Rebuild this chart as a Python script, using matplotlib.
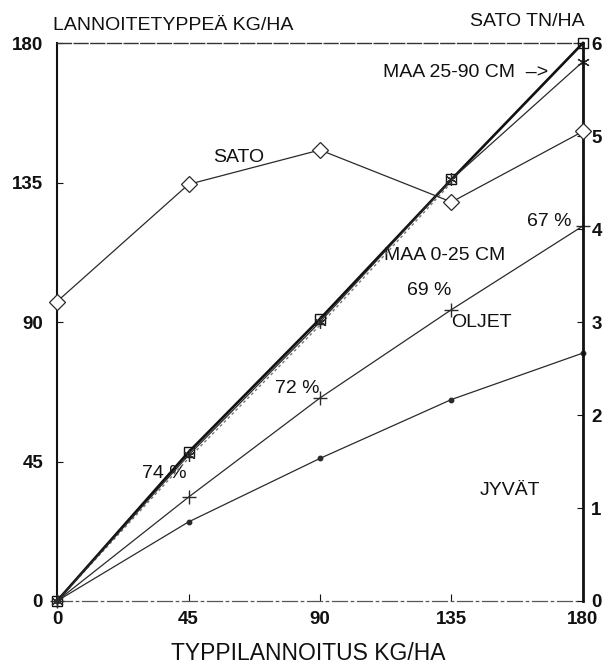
import numpy as np
import matplotlib
matplotlib.use("Agg")
import matplotlib.pyplot as plt

# ---- data ----
n_rate = [0, 45, 90, 135, 180]                 # TYPPILANNOITUS KG/HA
maa_total = [0, 48, 91, 136, 180]              # squares, thick line
maa_0_25 = [0, 47, 90, 136, 174]               # asterisks
maa_dotted_x = [0, 45, 90, 135]
maa_dotted = [0, 46, 89, 135]                  # dotted companion line
oljet = [0, 33.5, 65.5, 94, 121]               # + markers
jyvat = [0, 25.5, 46, 65, 80]                  # small dots
sato = [3.22, 4.48, 4.85, 4.29, 5.05]          # diamonds, right axis (TN/HA)

x_ticks = [0, 45, 90, 135, 180]
left_ticks = [0, 45, 90, 135, 180]
right_ticks = [0, 1, 2, 3, 4, 5, 6]

pct_labels = ["74 %", "72 %", "69 %", "67 %"]

FONT = ["Liberation Sans", "DejaVu Sans"]
plt.rcParams["font.family"] = FONT

fig = plt.figure(figsize=(6.09, 6.68), dpi=100)
ax = fig.add_axes([0.0936, 0.1003, 0.8637, 0.8353])
ax2 = ax.twinx()

ink = "#2a2a2a"

# main lines on left axis
ax.plot(n_rate, maa_total, color="#111111", lw=1.9, marker="s", ms=7,
        mfc="none", mec="#111111", mew=1.0, clip_on=False, zorder=5)
ax.plot(n_rate, maa_0_25, color=ink, lw=0.9, marker=(6, 2, 0), ms=9,
        mec=ink, mew=0.9, clip_on=False, zorder=5)
ax.plot(maa_dotted_x, maa_dotted, color="#777777", lw=1.0, ls=(0, (2, 2)),
        clip_on=False, zorder=4)
ax.plot(n_rate, oljet, color=ink, lw=0.9, marker="+", ms=10, mew=1.0,
        mec=ink, clip_on=False, zorder=5)
ax.plot(n_rate, jyvat, color=ink, lw=0.9, marker="o", ms=3.2,
        mfc=ink, mec=ink, clip_on=False, zorder=5)

# yield on right axis
ax2.plot(n_rate, sato, color=ink, lw=0.9, marker="D", ms=8, mfc="white",
         mec=ink, mew=0.9, clip_on=False, zorder=6)

ax.set_xlim(0, 180)
ax.set_ylim(0, 180)
ax2.set_ylim(0, 6)

ax.set_xticks(x_ticks)
ax.set_xticklabels([str(t) for t in x_ticks])
ax.set_yticks(left_ticks)
ax.set_yticklabels([str(t) for t in left_ticks])
ax2.set_yticks(right_ticks)
ax2.set_yticklabels([str(t) for t in right_ticks])

ax.tick_params(axis="x", direction="in", length=5, width=0.8, pad=7,
               labelsize=13.5, colors="#111111")
ax.tick_params(axis="y", direction="in", length=4, width=0.8, pad=10,
               labelsize=13.5, colors="#111111")
ax2.tick_params(axis="y", direction="in", length=4, width=0.8, pad=6,
                labelsize=13.5, colors="#111111")
for lab in ax.get_xticklabels() + ax.get_yticklabels() + ax2.get_yticklabels():
    lab.set_fontweight("bold")

# spines
for s in ["top", "bottom", "left"]:
    ax2.spines[s].set_visible(False)
ax.spines["right"].set_visible(False)
ax.spines["left"].set_linewidth(1.5)
ax.spines["left"].set_color("#111111")
ax2.spines["right"].set_linewidth(2.0)
ax2.spines["right"].set_color("#111111")
ax.spines["top"].set_linestyle((0, (10, 2)))
ax.spines["top"].set_linewidth(1.0)
ax.spines["top"].set_color("#333333")
ax.spines["bottom"].set_linestyle((0, (12, 3, 2, 3)))
ax.spines["bottom"].set_linewidth(0.9)
ax.spines["bottom"].set_color("#555555")

# annotations
tk = dict(fontsize=14, color="#111111", va="center", ha="left")
ax.text(53.4, 143, "SATO", **tk)
ax.text(111.5, 170.5, "MAA 25-90 CM  \u2013>", **tk)
ax.text(112, 111.6, "MAA 0-25 CM", **tk)
ax.text(119.8, 100.3, pct_labels[2], **tk)
ax.text(135, 90, "OLJET", **tk)
ax.text(74.5, 68.4, pct_labels[1], **tk)
ax.text(29, 41, pct_labels[0], **tk)
ax.text(160.8, 122.5, pct_labels[3], **tk)
ax.text(144.7, 35.5, "JYVÄT", **tk)

fig.text(53 / 609, 1 - 25 / 668, "LANNOITETYPPEÄ KG/HA", fontsize=14,
         color="#111111", ha="left", va="center")
fig.text(585 / 609, 1 - 22 / 668, "SATO TN/HA", fontsize=14,
         color="#111111", ha="right", va="center")
fig.text(308 / 609, 1 - 653 / 668, "TYPPILANNOITUS KG/HA", fontsize=16.5,
         color="#111111", ha="center", va="center")

fig.savefig("out.png", dpi=100)
